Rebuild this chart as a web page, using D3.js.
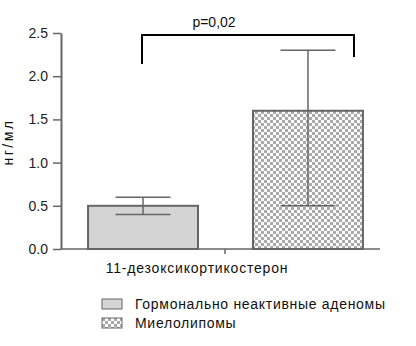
<!DOCTYPE html>
<html>
<head>
<meta charset="utf-8">
<script src="https://cdn.jsdelivr.net/npm/d3@7"></script>
<style>
  body { margin: 0; background: #fff; }
  text { font-family: "Liberation Sans", Arial, sans-serif; }
</style>
</head>
<body>
<div id="chart"></div>
<script>
// Data
const category = "11-дезоксикортикостерон";
const seriesNames = ["Гормонально неактивные аденомы", "Миелолипомы"];
const means = [0.5, 1.6];
const lowerBars = [0.4, 0.5];
const upperBars = [0.6, 2.3];
const yTicks = [0.0, 0.5, 1.0, 1.5, 2.0, 2.5];
const pLabel = "p=0,02";

const W = 416, H = 346;
const svg = d3.select("#chart").append("svg")
  .attr("width", W).attr("height", H);

const defs = svg.append("defs");
const pat = defs.append("pattern")
  .attr("id", "checker")
  .attr("patternUnits", "userSpaceOnUse")
  .attr("width", 6).attr("height", 6);
pat.append("rect").attr("width", 6).attr("height", 6).attr("fill", "#fff");
pat.append("rect").attr("width", 3).attr("height", 3).attr("fill", "#aaa");
pat.append("rect").attr("x", 3).attr("y", 3).attr("width", 3).attr("height", 3).attr("fill", "#aaa");

const fills = ["#d4d4d4", "url(#checker)"];
const axisColor = "#666";

// Scales
const y = d3.scaleLinear().domain([0, 2.5]).range([249, 33]);
const x = d3.scaleBand().domain(seriesNames).range([61, 390]).paddingInner(1 / 3).paddingOuter(0.164);

// Y axis
const yAxis = svg.append("g")
  .attr("transform", "translate(61,0)")
  .call(d3.axisLeft(y).tickValues(yTicks).tickFormat(d3.format(".1f")).tickSize(8).tickSizeOuter(0));
yAxis.select(".domain").attr("stroke", axisColor).attr("stroke-width", 2);
yAxis.selectAll(".tick line").attr("stroke", axisColor).attr("stroke-width", 1.5);
yAxis.selectAll(".tick text").attr("fill", "#222").style("font-size", "14px").attr("x", -13);

// X axis line with a centre tick
svg.append("line")
  .attr("x1", 61).attr("x2", 380).attr("y1", y(0)).attr("y2", y(0))
  .attr("stroke", axisColor).attr("stroke-width", 1.5);
svg.append("line")
  .attr("x1", 225).attr("x2", 225).attr("y1", y(0)).attr("y2", y(0) + 5)
  .attr("stroke", axisColor).attr("stroke-width", 1.5);

// Bars
svg.selectAll("rect.bar")
  .data(seriesNames)
  .enter().append("rect")
  .attr("class", "bar")
  .attr("x", d => x(d))
  .attr("width", x.bandwidth())
  .attr("y", (d, i) => y(means[i]))
  .attr("height", (d, i) => y(0) - y(means[i]))
  .attr("fill", (d, i) => fills[i])
  .attr("stroke", axisColor)
  .attr("stroke-width", 2);

// Error bars
const eb = svg.selectAll("g.err")
  .data(seriesNames)
  .enter().append("g")
  .attr("class", "err");
eb.append("line")
  .attr("x1", d => x(d) + x.bandwidth() / 2)
  .attr("x2", d => x(d) + x.bandwidth() / 2)
  .attr("y1", (d, i) => y(upperBars[i]))
  .attr("y2", (d, i) => y(lowerBars[i]))
  .attr("stroke", axisColor).attr("stroke-width", 1.5);
[upperBars, lowerBars].forEach(arr => {
  eb.append("line")
    .attr("x1", d => x(d) + x.bandwidth() / 4)
    .attr("x2", d => x(d) + x.bandwidth() * 3 / 4)
    .attr("y1", (d, i) => y(arr[i]))
    .attr("y2", (d, i) => y(arr[i]))
    .attr("stroke", axisColor).attr("stroke-width", 1.5);
});

// Significance bracket
const bx1 = 142, bx2 = 354, by = 35;
svg.append("path")
  .attr("d", `M${bx1},64V${by}H${bx2}V57`)
  .attr("fill", "none").attr("stroke", "#000").attr("stroke-width", 2);
svg.append("text")
  .attr("x", 214).attr("y", 27)
  .attr("text-anchor", "middle")
  .style("font-size", "14px").attr("fill", "#111")
  .text(pLabel);

// Labels
svg.append("text")
  .attr("x", 197).attr("y", 273)
  .attr("text-anchor", "middle")
  .style("font-size", "14px").style("letter-spacing", "0.8px").attr("fill", "#111")
  .text(category);

svg.append("text")
  .attr("transform", "translate(13,142) rotate(-90)")
  .attr("text-anchor", "middle")
  .style("font-size", "14px").style("letter-spacing", "2.5px").attr("fill", "#111")
  .text("нг/мл");

// Legend
const legend = svg.append("g").attr("transform", "translate(102,299)");
const items = legend.selectAll("g")
  .data(seriesNames)
  .enter().append("g")
  .attr("transform", (d, i) => `translate(0,${i * 19})`);
items.append("rect")
  .attr("width", 20).attr("height", 10)
  .attr("fill", (d, i) => fills[i])
  .attr("stroke", axisColor).attr("stroke-width", 1);
items.append("text")
  .attr("x", 33).attr("y", 10)
  .style("font-size", "14px").style("letter-spacing", "0.7px").attr("fill", "#111")
  .text(d => d);
</script>
</body>
</html>
